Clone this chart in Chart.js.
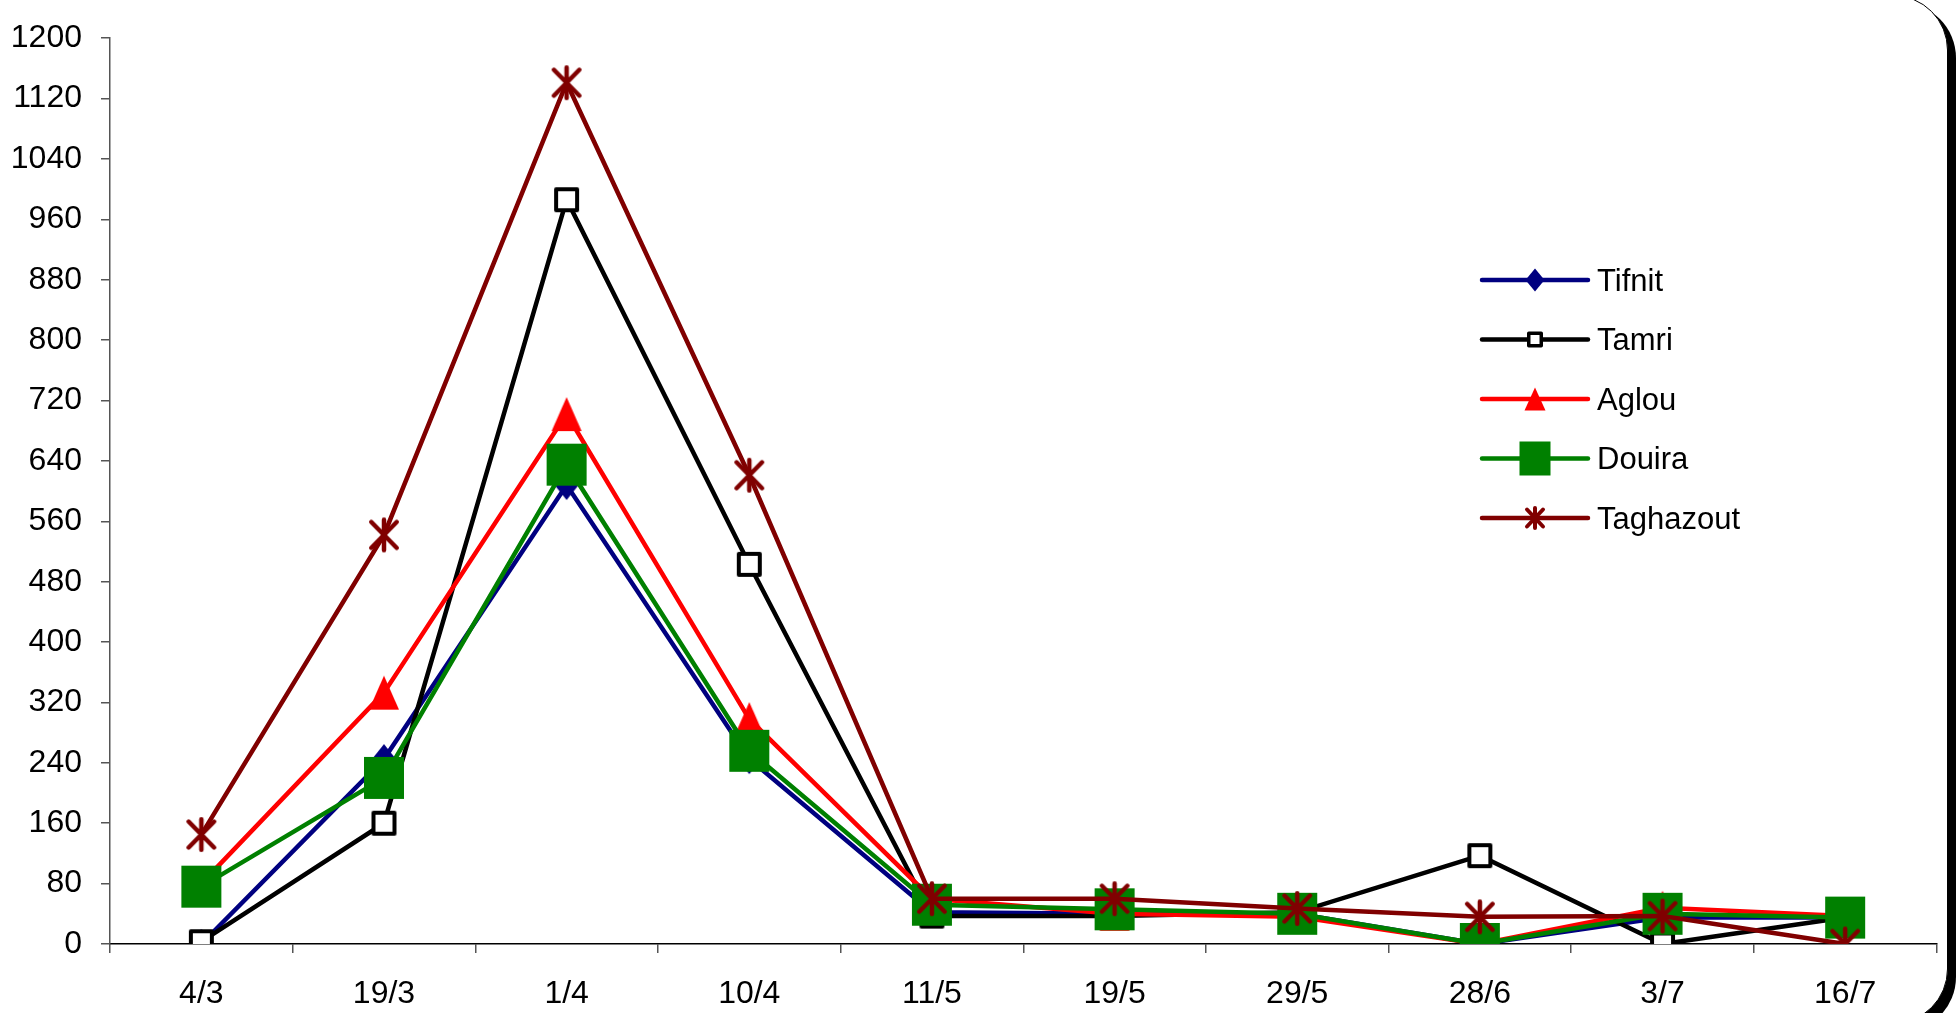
<!DOCTYPE html>
<html>
<head>
<meta charset="utf-8">
<script src="https://cdn.jsdelivr.net/npm/chart.js@4.4.1/dist/chart.umd.min.js"></script>
<style>
  html, body { margin: 0; padding: 0; background: #fff; }
  #wrap { position: relative; width: 1956px; height: 1013px; overflow: hidden; background: #fff; }
  #frame {
    position: absolute; left: -60px; top: -5px; width: 2008px; height: 1029px;
    box-sizing: border-box; border: 1.5px solid #000; border-radius: 55px;
    box-shadow: 8px 8px 0 #000; background: #fff;
  }
  #c { position: absolute; left: 0; top: 0; }
</style>
</head>
<body>
<div id="wrap">
  <div id="frame"></div>
  <canvas id="c" width="1956" height="1013"></canvas>
</div>
<script>
// Sampling dates
const dates = ['4/3', '19/3', '1/4', '10/4', '11/5', '19/5', '29/5', '28/6', '3/7', '16/7'];

// Counts per site
const tifnit    = [0, 245, 608, 245, 42, 40, 40, 0, 35, 35];
const tamri     = [3, 160, 986, 503, 37, 37, 42, 117, 0, 35];
const aglou     = [80, 333, 702, 298, 60, 40, 36, 0, 48, 37];
const douira    = [76, 220, 635, 256, 52, 46, 40, 0, 40, 35];
const taghazout = [145, 542, 1141, 621, 60, 60, 47, 36, 37, 0];

// Y axis range and step
const yMin = 0, yMax = 1200, yStep = 80;

const siteNames = ['Tifnit', 'Tamri', 'Aglou', 'Douira', 'Taghazout'];
const siteColors = ['#000080', '#000000', '#ff0000', '#008000', '#800000'];

const FONT = '"Liberation Sans", Arial, sans-serif';

// ---- marker drawing ----
function drawMarker(ctx, kind, cx, cy, w, h, color, lw) {
  ctx.save();
  ctx.lineJoin = 'round';
  ctx.lineCap = 'round';
  if (kind === 'diamond') {
    ctx.fillStyle = color;
    ctx.beginPath();
    ctx.moveTo(cx, cy - h / 2);
    ctx.lineTo(cx + w / 2, cy);
    ctx.lineTo(cx, cy + h / 2);
    ctx.lineTo(cx - w / 2, cy);
    ctx.closePath();
    ctx.fill();
  } else if (kind === 'hollow') {
    ctx.fillStyle = '#fff';
    ctx.strokeStyle = color;
    ctx.lineWidth = lw;
    const iw = w - lw, ih = h - lw;
    ctx.beginPath();
    ctx.rect(cx - iw / 2, cy - ih / 2, iw, ih);
    ctx.fill();
    ctx.stroke();
  } else if (kind === 'triangle') {
    ctx.fillStyle = color;
    ctx.beginPath();
    ctx.moveTo(cx, cy - h / 2);
    ctx.lineTo(cx + w / 2, cy + h / 2);
    ctx.lineTo(cx - w / 2, cy + h / 2);
    ctx.closePath();
    ctx.fill();
  } else if (kind === 'square') {
    ctx.fillStyle = color;
    ctx.fillRect(cx - w / 2, cy - h / 2, w, h);
  } else if (kind === 'star') {
    ctx.strokeStyle = color;
    ctx.lineWidth = lw;
    const hw = w / 2 - lw / 2, hh = h / 2 - lw / 2;
    ctx.beginPath();
    ctx.moveTo(cx, cy - hh); ctx.lineTo(cx, cy + hh);
    ctx.moveTo(cx - hw, cy - hh * 0.85); ctx.lineTo(cx + hw, cy + hh * 0.85);
    ctx.moveTo(cx - hw, cy + hh * 0.85); ctx.lineTo(cx + hw, cy - hh * 0.85);
    ctx.stroke();
  }
  ctx.restore();
}

const markerKinds = ['diamond', 'hollow', 'triangle', 'square', 'star'];
// [width, height, line width] for the plotted markers
const plotMarkerDims = [[24, 30, 0], [25, 25, 4], [30, 34, 0], [40, 42, 0], [30, 35, 4.5]];
// [width, height, line width] for the legend markers
const legendMarkerDims = [[19, 23, 0], [16, 16, 3.5], [21, 23, 0], [31, 34, 0], [20, 24, 4]];

function markerCanvas(i) {
  const [w, h, lw] = plotMarkerDims[i];
  const c = document.createElement('canvas');
  c.width = w + 2; c.height = h + 2;
  drawMarker(c.getContext('2d'), markerKinds[i], c.width / 2, c.height / 2, w, h, siteColors[i], lw);
  return c;
}

const series = [tifnit, tamri, aglou, douira, taghazout];

const datasets = series.map((vals, i) => ({
  label: siteNames[i],
  data: vals,
  borderColor: siteColors[i],
  backgroundColor: siteColors[i],
  borderWidth: 4.5,
  tension: 0,
  pointStyle: markerCanvas(i),
  pointRadius: 15,
  order: series.length - i
}));

// Legend drawn inside the plot: line sample with its marker, then the name
const insideLegend = {
  id: 'insideLegend',
  afterDraw(chart) {
    const ctx = chart.ctx;
    const x0 = 1482, x1 = 1588, tx = 1597;
    const yTop = 280, gap = 59.5;
    ctx.save();
    chart.data.datasets.forEach((ds, i) => {
      const y = yTop + i * gap;
      ctx.strokeStyle = ds.borderColor;
      ctx.lineWidth = 4.5;
      ctx.lineCap = 'round';
      ctx.beginPath();
      ctx.moveTo(x0, y); ctx.lineTo(x1, y);
      ctx.stroke();
      const [w, h, lw] = legendMarkerDims[i];
      drawMarker(ctx, markerKinds[i], (x0 + x1) / 2, y, w, h, ds.borderColor, lw);
      ctx.fillStyle = '#000';
      ctx.font = '31px ' + FONT;
      ctx.textBaseline = 'middle';
      ctx.textAlign = 'left';
      ctx.fillText(ds.label, tx, y + 2);
    });
    ctx.restore();
  }
};

new Chart(document.getElementById('c'), {
  type: 'line',
  data: { labels: dates, datasets },
  plugins: [insideLegend],
  options: {
    responsive: false,
    animation: false,
    events: [],
    layout: { padding: { left: 0, right: 14, top: 28, bottom: 0 } },
    plugins: { legend: { display: false }, tooltip: { enabled: false } },
    scales: {
      x: {
        offset: true,
        border: { display: true, color: '#000', width: 1.5 },
        grid: { offset: true, drawOnChartArea: false, drawTicks: true, tickLength: 9, color: '#555', lineWidth: 1.5 },
        ticks: {
          color: '#000', padding: 22, maxRotation: 0, autoSkip: false,
          font: { family: FONT, size: 32 }
        },
        afterFit(s) { s.height = 69; }
      },
      y: {
        min: yMin, max: yMax,
        border: { display: true, color: '#555', width: 1.5 },
        grid: { drawOnChartArea: false, drawTicks: true, tickLength: 9, color: '#555', lineWidth: 1.5 },
        ticks: {
          stepSize: yStep, color: '#000', padding: 19,
          font: { family: FONT, size: 32 },
          callback: v => String(v)
        },
        afterFit(s) { s.width = 110; }
      }
    }
  }
});
</script>
</body>
</html>
